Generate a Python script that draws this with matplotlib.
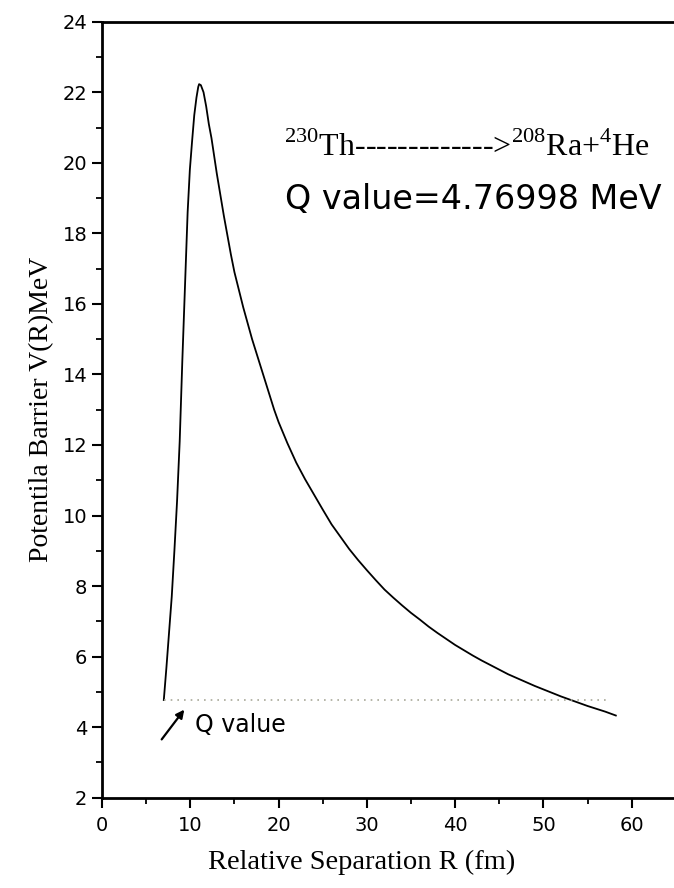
import matplotlib
matplotlib.use("Agg")
import matplotlib.pyplot as plt
from matplotlib.ticker import MultipleLocator

# curve
r_fm = [7.0, 7.3, 7.6, 7.9, 8.2, 8.5, 8.8, 9.1, 9.4, 9.7, 9.95, 10.2, 10.45, 10.7, 10.9,
        11.0, 11.2, 11.5, 11.8, 12.1, 12.4, 12.7, 13.0, 13.4, 13.8, 14.2, 14.6, 15.0,
        15.5, 16.0, 16.5, 17.0, 17.5, 18.0, 18.5, 19.0, 19.5, 20.0, 21.0, 22.0, 23.0,
        24.0, 25.0, 26.0, 27.0, 28.0, 29.0, 30.0, 31.0, 32.0, 33.0, 34.0, 35.0, 36.0,
        37.0, 38.0, 39.0, 40.0, 41.0, 42.0, 43.0, 44.0, 45.0, 46.0, 47.0, 48.0, 49.0,
        50.0, 51.0, 52.0, 53.0, 54.0, 55.0, 56.0, 57.0, 58.2]
v_mev = [4.77, 5.7, 6.7, 7.7, 9.0, 10.4, 12.1, 14.4, 16.5, 18.6, 19.8, 20.6, 21.35, 21.85, 22.15,
         22.23, 22.2, 22.0, 21.6, 21.1, 20.7, 20.2, 19.7, 19.1, 18.5, 17.95, 17.4, 16.9,
         16.4, 15.9, 15.45, 15.0, 14.6, 14.2, 13.8, 13.4, 13.0, 12.65, 12.05, 11.5, 11.03,
         10.6, 10.17, 9.75, 9.4, 9.05, 8.74, 8.45, 8.17, 7.9, 7.67, 7.45, 7.24, 7.05,
         6.85, 6.67, 6.5, 6.33, 6.18, 6.03, 5.89, 5.76, 5.63, 5.5, 5.39, 5.28, 5.17,
         5.07, 4.97, 4.87, 4.78, 4.69, 4.6, 4.52, 4.44, 4.33]

# Q value line
q_r = [7.0, 57.5]
q_v = [4.77, 4.77]

x_ticks = [0, 10, 20, 30, 40, 50, 60]
y_ticks = [2, 4, 6, 8, 10, 12, 14, 16, 18, 20, 22, 24]

plt.rcParams["font.family"] = "DejaVu Sans"
plt.rcParams["mathtext.fontset"] = "custom"
plt.rcParams["mathtext.rm"] = "Liberation Serif"

fig = plt.figure(figsize=(6.74, 8.88), dpi=100)
# axes run past the right edge, like the cropped original
ax = fig.add_axes([102 / 674, 90.3 / 888, 618 / 674, 776 / 888])

ax.plot(r_fm, v_mev, color="black", lw=1.3)
ax.plot(q_r, q_v, color="#a8a898", lw=1.2, linestyle=(0, (1, 3)))

ax.set_xlim(0, 70)
ax.set_ylim(2, 24)
ax.set_xticks(x_ticks)
ax.set_yticks(y_ticks)
ax.xaxis.set_minor_locator(MultipleLocator(5))
ax.yaxis.set_minor_locator(MultipleLocator(1))

for s in ax.spines.values():
    s.set_linewidth(2.0)

ax.tick_params(which="major", direction="out", length=7.5, width=1.5, labelsize=14)
ax.tick_params(which="minor", direction="out", length=4.3, width=1.3)
ax.tick_params(axis="x", pad=6)
ax.tick_params(axis="y", pad=3)

ax.set_xlabel("Relative Separation R (fm)", fontsize=20.5, family="Liberation Serif", va="center")
ax.xaxis.set_label_coords(0.4207, -0.083)
ax.set_ylabel("Potentila Barrier V(R)MeV", fontsize=20, family="Liberation Serif", va="center")
ax.yaxis.set_label_coords(-0.097, 0.5)

ax.text(20.6, 20.2, r"$^{230}$Th------------->$^{208}$Ra+$^{4}$He",
        fontsize=23, family="Liberation Serif", va="baseline", ha="left")
ax.text(20.7, 18.7, "Q value=4.76998 MeV", fontsize=24, va="baseline", ha="left")

ax.annotate("", xy=(9.51, 4.56), xytext=(6.57, 3.59),
            arrowprops=dict(arrowstyle="-|>", color="black", lw=1.6, mutation_scale=12))
ax.text(10.53, 3.87, "Q value", fontsize=17, va="baseline", ha="left")

fig.savefig("out.png", dpi=100)
